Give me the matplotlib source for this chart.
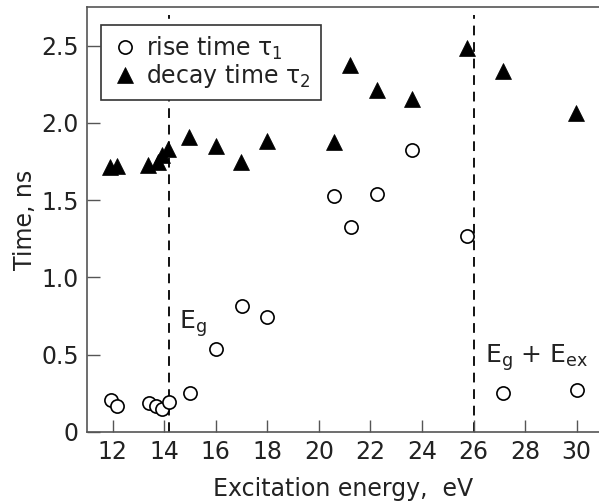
import matplotlib
matplotlib.use("Agg")
import matplotlib.pyplot as plt

plt.rcParams['font.family'] = ['DejaVu Sans']
plt.rcParams['mathtext.fontset'] = 'custom'
plt.rcParams['mathtext.rm'] = 'DejaVu Sans'
plt.rcParams['mathtext.it'] = 'DejaVu Sans'
plt.rcParams['mathtext.bf'] = 'DejaVu Sans'

# rise time tau1 (circles)
rise_x = [11.94, 12.17, 13.39, 13.69, 13.91, 14.17, 14.98, 16.0, 17.01, 17.99,
          20.59, 21.24, 22.27, 23.61, 25.74, 27.16, 30.0]
rise_y = [0.207, 0.17, 0.19, 0.168, 0.147, 0.196, 0.25, 0.537, 0.818, 0.747,
          1.524, 1.326, 1.54, 1.822, 1.269, 0.25, 0.272]

# decay time tau2 (triangles)
decay_x = [11.91, 12.15, 13.38, 13.77, 13.92, 14.16, 14.97, 16.0, 16.99, 17.99,
           20.59, 21.21, 22.27, 23.6, 25.74, 27.16, 29.99]
decay_y = [1.716, 1.72, 1.73, 1.75, 1.79, 1.83, 1.91, 1.85, 1.75, 1.88,
           1.877, 2.377, 2.215, 2.155, 2.485, 2.334, 2.064]

x_ticks = [12, 14, 16, 18, 20, 22, 24, 26, 28, 30]
y_ticks = [0, 0.5, 1.0, 1.5, 2.0, 2.5]
y_ticklabels = ['0', '0.5', '1.0', '1.5', '2.0', '2.5']
eg = 14.2
eg_ex = 26.0

fig = plt.figure(figsize=(5.99, 5.04), dpi=100)
ax = fig.add_axes([0.1452, 0.1429, 0.8548, 0.8433])

ax.axvline(eg, ymax=0.98, color='#111111', lw=1.4, dashes=(5, 3.5), zorder=1)
ax.axvline(eg_ex, ymax=0.98, color='#111111', lw=1.4, dashes=(5, 3.5), zorder=1)

ax.plot(rise_x, rise_y, linestyle='none', marker='o', ms=9.5, mfc='white',
        mec='black', mew=1.2, label=r'rise time $\mathrm{\tau}_1$', zorder=3)
ax.plot(decay_x, decay_y, linestyle='none', marker='^', ms=11.5, mfc='black',
        mec='black', mew=0.5, label=r'decay time $\mathrm{\tau}_2$', zorder=3)

ax.set_xlim(11.0, 30.87)
ax.set_ylim(0, 2.75)
ax.set_xticks(x_ticks)
ax.set_yticks(y_ticks)
ax.set_yticklabels(y_ticklabels)
ax.tick_params(direction='in', length=9, width=1.0, labelsize=17,
               colors='#555555', labelcolor='#222222', pad=6)
for side in ['left', 'bottom', 'top']:
    ax.spines[side].set_color('#555555')
    ax.spines[side].set_linewidth(1.2)
ax.spines['right'].set_visible(False)

ax.set_xlabel('Excitation energy,  eV', fontsize=17, color='#222222', labelpad=9)
ax.set_ylabel('Time, ns', fontsize=17, color='#222222', labelpad=3)

ax.text(14.56, 0.665, r'E$_\mathrm{g}$', fontsize=18, color='#222222', va='baseline')
ax.text(26.43, 0.447, r'E$_\mathrm{g}$ + E$_\mathrm{ex}$', fontsize=18,
        color='#222222', va='baseline')

leg = ax.legend(loc='upper left', bbox_to_anchor=(0.027, 0.958), borderaxespad=0,
                fancybox=False, framealpha=1, edgecolor='#333333', fontsize=17,
                handlelength=1.2, handletextpad=0.3, borderpad=0.42, labelspacing=0.0)
leg.get_frame().set_linewidth(1.2)
for t in leg.get_texts():
    t.set_color('#222222')

fig.savefig('out.png', dpi=100)
